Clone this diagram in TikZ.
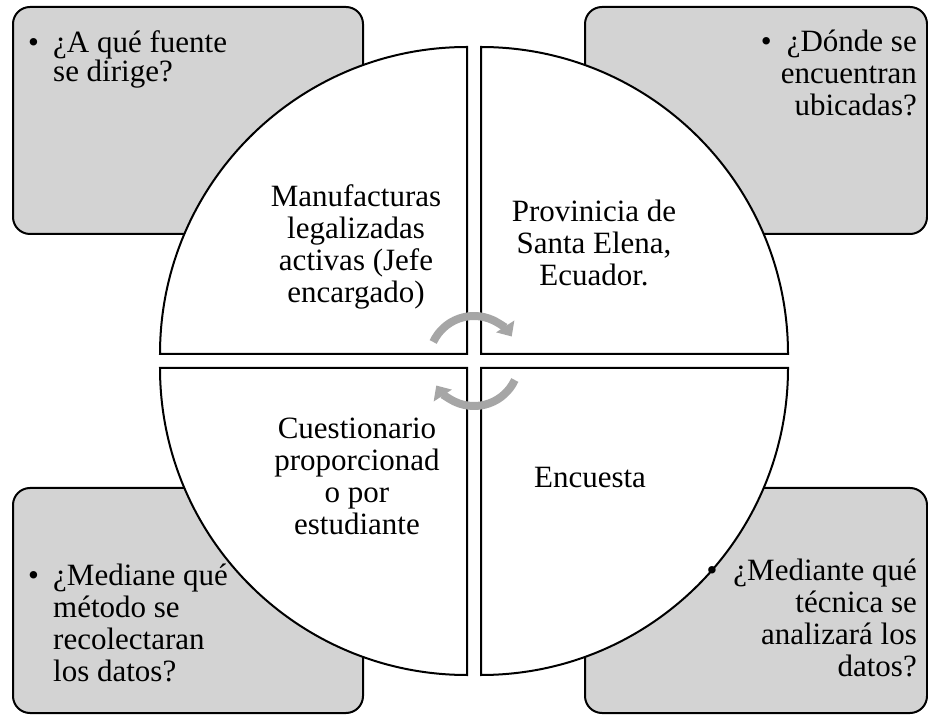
\documentclass[tikz,border=0pt]{standalone}
\usepackage{fontspec}
\setmainfont{Liberation Serif}
\usetikzlibrary{arrows.meta, positioning, calc}
\definecolor{boxgray}{RGB}{211,211,211}
\definecolor{arrowgray}{RGB}{166,166,166}
\tikzset{
  qbox/.style={draw=black, line width=2pt, fill=boxgray, rounded corners=17pt},
  quad/.style={draw=black, line width=2pt, fill=white},
  qtext/.style={inner sep=0pt, font=\fontsize{31}{32}\selectfont},
  cyc/.style={draw=arrowgray, line width=8pt, -{Triangle[width=21pt,length=12pt]}}
}

\begin{document}
\begin{tikzpicture}[x=1pt,y=1pt]
\useasboundingbox (0,0) rectangle (928,715);

% question boxes
\draw[qbox] (13,481) rectangle (363,708);
\draw[qbox] (585,481) rectangle (927,708);
\draw[qbox] (13,2) rectangle (363,227);
\draw[qbox] (585,2) rectangle (927,227);

% circle in four quadrants
\draw[quad] (467,361) -- (160,361) arc[start angle=180,end angle=90,radius=307] -- cycle;
\draw[quad] (481,361) -- (481,668) arc[start angle=90,end angle=0,radius=307] -- cycle;
\draw[quad] (467,347) -- (467,40) arc[start angle=270,end angle=180,radius=307] -- cycle;
\draw[quad] (481,347) -- (788,347) arc[start angle=0,end angle=-90,radius=307] -- cycle;

% questions
\node[qtext, anchor=north west, align=left, font=\fontsize{31}{28}\selectfont] (qfuente) at (28,685)
  {\makebox[25pt][l]{\textbullet}¿A qué fuente\\\hspace*{25pt}se dirige?};
\node[qtext, anchor=north east, align=right] (qdonde) at (917,685)
  {\textbullet\hspace{15pt}¿Dónde se\\encuentran\\ubicadas?};
\node[qtext, anchor=north west, align=left] (qmetodo) at (28,151)
  {\makebox[25pt][l]{\textbullet}¿Mediane qué\\\hspace*{25pt}método se\\\hspace*{25pt}recolectaran\\\hspace*{25pt}los datos?};
\node[qtext, anchor=north east, align=right] (qtecnica) at (917,156)
  {\textbullet\hspace{16pt}¿Mediante qué\\técnica se\\analizará los\\datos?};

% answers
\node[qtext, anchor=north, align=center, font=\fontsize{31}{32}\selectfont] (afuente) at (356,531)
  {Manufacturas\\legalizadas\\activas (Jefe\\encargado)};
\node[qtext, anchor=north, align=center] (adonde) at (594,515)
  {Provinicia de\\Santa Elena,\\Ecuador.};
\node[qtext, anchor=north, align=center, font=\fontsize{31}{32}\selectfont] (ametodo) at (357,297)
  {Cuestionario\\proporcionad\\o por\\estudiante};
\node[qtext, anchor=base] (atecnica) at (590,228) {Encuesta};

% cycle arrows
\coordinate (cyccenter) at (474,354);
\draw[cyc] ([shift={(155:45)}]cyccenter) arc[start angle=155,end angle=33,radius=45];
\draw[cyc] ([shift={(-25:45)}]cyccenter) arc[start angle=-25,end angle=-147,radius=45];
%\draw[step=10pt,color=gray!50!white] (0,0) grid (928,715);

\end{tikzpicture}
\end{document}
